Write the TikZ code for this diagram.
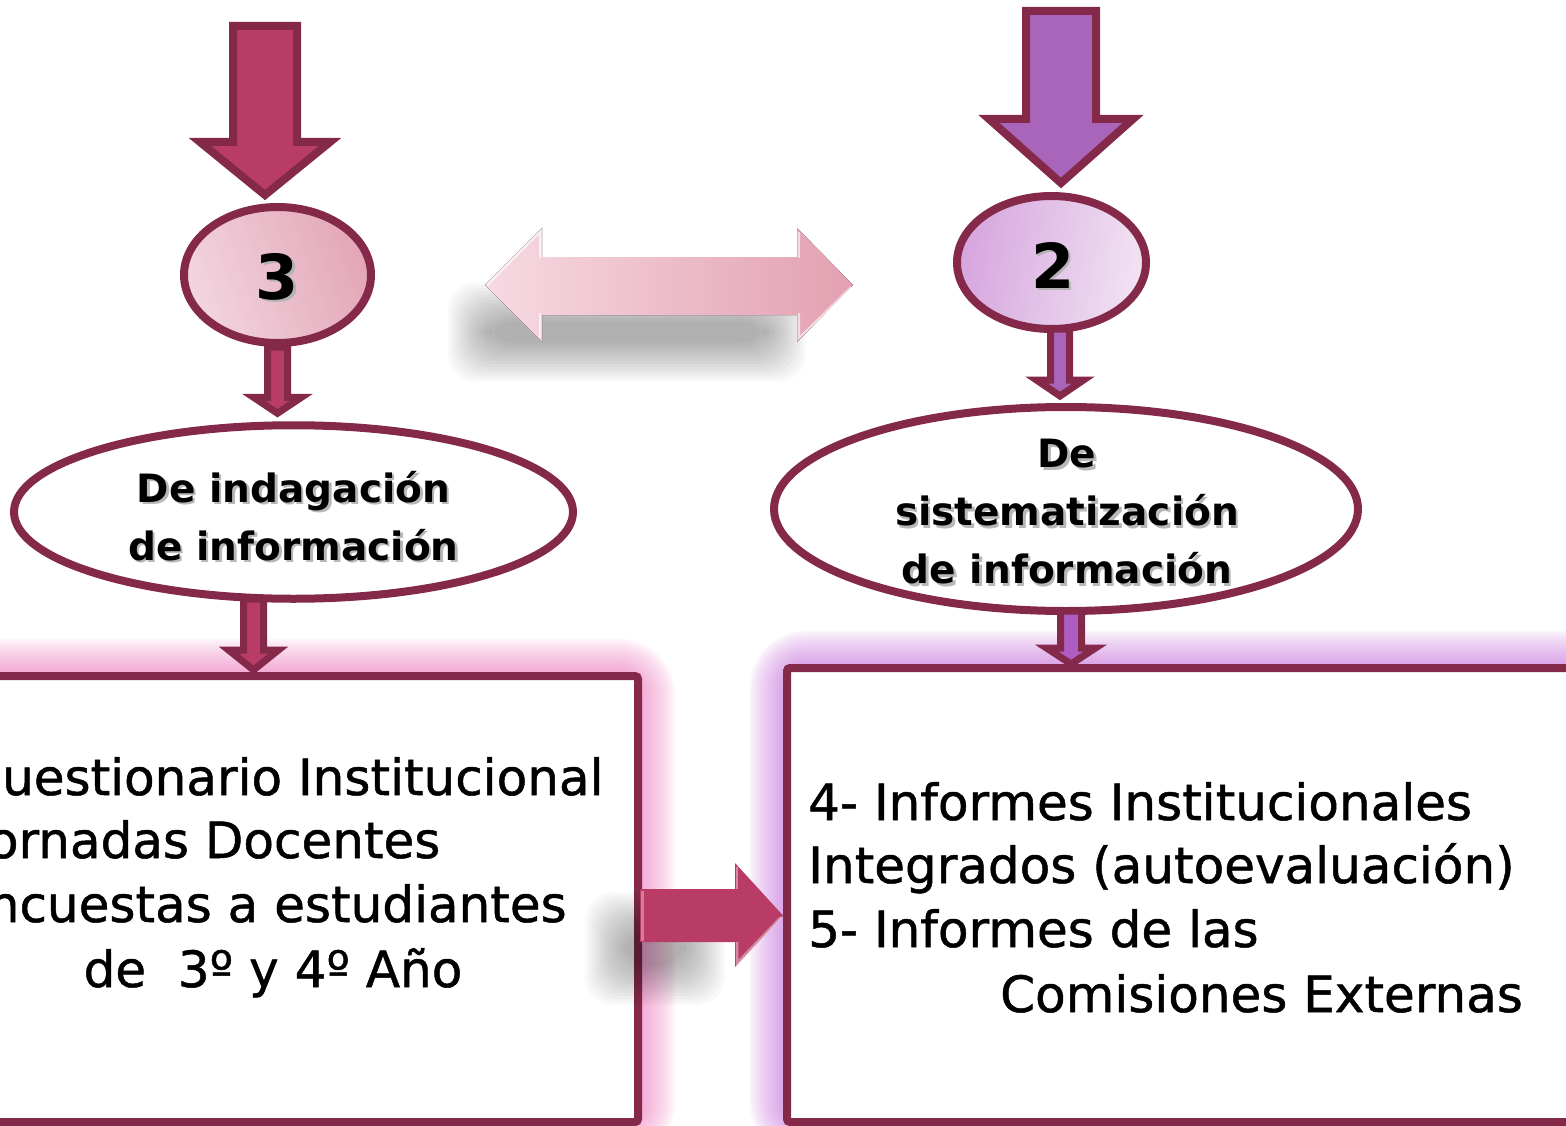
\documentclass[tikz,border=0pt]{standalone}
\usepackage{fontspec}
\setmainfont{DejaVu Sans}
\newfontfamily\boxfont{DejaVu Sans}[FakeBold=1]
\usetikzlibrary{shapes.geometric,calc}
\definecolor{bord}{HTML}{85294B}
\definecolor{redfill}{HTML}{B83C66}
\definecolor{purpfill}{HTML}{A865BA}
\definecolor{purpsmall}{HTML}{AE5EC2}
\definecolor{ellA}{HTML}{F2D5DF}
\definecolor{ellB}{HTML}{E3A6B7}
\definecolor{ellC}{HTML}{D6A5DE}
\definecolor{ellD}{HTML}{F1E3F3}
\definecolor{glowL}{HTML}{F4ACD6}
\definecolor{glowR}{HTML}{DCA6E8}
\definecolor{dblA}{HTML}{F6DAE2}
\definecolor{dblB}{HTML}{E3A0B1}
\tikzset{
  ell/.style={ellipse, draw=bord, line width=8pt, inner sep=0pt},
  boxst/.style={rectangle, draw=bord, line width=8pt, fill=white, inner sep=0pt, rounded corners=3pt},
  blk/.style={draw=bord, line width=8pt, line join=miter, miter limit=10},
  sblk/.style={draw=bord, line width=7pt, line join=miter, miter limit=10},
  etxt/.style={font=\bfseries\fontsize{39}{58}\selectfont, align=center, text=black, inner sep=0pt},
  eshad/.style={etxt, text=black!28},
  ntxt/.style={font=\bfseries\fontsize{62}{62}\selectfont, inner sep=0pt},
  btxt/.style={font=\boxfont\fontsize{50}{64}\selectfont, anchor=base west, inner sep=0pt},
  softsh/.style={black, opacity=0.024},
}
% #1 top coordinate, #2 tip anchor, #3 tip dy (canvas, up positive), #4 shaft half, #5 head half, #6 head length, #7 style
\newcommand\vblock[7]{%
  \draw[#7] let \p1=(#1), \p2=(#2), \n1={\y2+#3pt}, \n2={\y2+#3pt+#6pt} in
    ({\x1-#4pt},\y1) -- ({\x1+#4pt},\y1) -- ({\x1+#4pt},\n2) -- ({\x1+#5pt},\n2)
    -- (\x1,\n1) -- ({\x1-#5pt},\n2) -- ({\x1-#4pt},\n2) -- cycle;}
% soft shadow: nested rounded rectangles
\newcommand\softshadow[4]{%
  \foreach \k in {0,...,13}{
    \fill[softsh, rounded corners=28pt] ({#1+3*\k},{#2+3*\k}) rectangle ({#3-3*\k},{#4-3*\k});
  }}
\begin{document}
\begin{tikzpicture}[x=1pt,y=-1pt]
\useasboundingbox (0,0) rectangle (1566,1126);
\clip (0,0) rectangle (1566,1126);
\fill[white] (0,0) rectangle (1566,1126);

% glows
\foreach \k in {0,...,19}{
  \pgfmathsetmacro\w{78-3.6*\k}
  \pgfmathsetmacro\c{100*(\k/19)^0.75}
  \draw[line width=\w pt, draw=glowL!\c!white, rounded corners=20pt] (-20,676) rectangle (638,1122);
  \draw[line width=\w pt, draw=glowR!\c!white, rounded corners=20pt] (787,668) rectangle (1600,1122);
}

% boxes
\node[boxst, minimum width=658pt, minimum height=446pt] (lbox) at (309,899) {};
\node[boxst, minimum width=813pt, minimum height=454pt] (rbox) at (1193.5,895) {};

% ellipses
\node[ell, minimum width=187pt, minimum height=136pt, left color=ellA, right color=ellB, shading angle=110] (e3) at (277.5,275) {};
\node[ell, minimum width=189pt, minimum height=133pt, left color=ellC, right color=ellD, shading angle=80] (e2) at (1051.5,262.5) {};
\node[ell, minimum width=559pt, minimum height=173.5pt, fill=white] (ind) at (293.5,512) {};
\node[ell, minimum width=584pt, minimum height=204pt, fill=white] (sis) at (1066,509) {};

% top free ends and arrow start points
\coordinate (a3top) at (265,26);
\coordinate (a2top) at (1061,11);
\coordinate (a2s) at (1060,329);
\coordinate (a1s) at (253.5,599);
\coordinate (a4s) at (1071,611);

% big arrows
\vblock{a3top}{e3.north}{8}{32}{65}{53}{blk, fill=redfill}
\vblock{a2top}{e2.north}{9}{35}{72}{64}{blk, fill=purpfill}
% small arrows
\vblock{e3.south}{ind.north}{8}{10}{24}{16}{sblk, fill=redfill}
\vblock{a2s}{sis.north}{7}{9.5}{23.5}{16}{sblk, fill=purpfill}
\vblock{a1s}{lbox.north}{2}{10}{25}{20}{sblk, fill=redfill}
\vblock{a4s}{rbox.north}{0}{10.5}{24.5}{16}{sblk, fill=purpsmall}

% numbers
\node[ntxt, text=black!30] (n3s) at ($(e3.center)+(2.5,3.5)$) {3};
\node[ntxt] (n3) at ($(e3.center)+(0,1.5)$) {3};
\node[ntxt, text=black!30] (n2s) at ($(e2.center)+(4,5)$) {2};
\node[ntxt] (n2) at ($(e2.center)+(1.5,3)$) {2};

% ellipse texts
\node[eshad] (indts) at ($(ind.center)+(2.5,6.5)$) {De indagación\\de información};
\node[etxt] (indt) at ($(ind.center)+(0,4)$) {De indagación\\de información};
\node[eshad] (sists) at ($(sis.center)+(3.5,5.5)$) {De\\sistematización\\de información};
\node[etxt] (sist) at ($(sis.center)+(1,3)$) {De\\sistematización\\de información};

% double arrow with soft shadow
\softshadow{448}{282}{806}{382}
\fill[left color=dblA, right color=dblB]
  (485,285) -- (542,228) -- (542,257) -- (797,257) -- (797,228) -- (853,285)
  -- (797,342) -- (797,315) -- (542,315) -- (542,342) -- cycle;
\draw[white, opacity=0.7, line width=2pt] (487,285) -- (540,232) -- (540,258);
\draw[white, opacity=0.6, line width=2pt] (540,313) -- (540,338);
\draw[white, opacity=0.6, line width=2pt] (799,232) -- (799,258);
\draw[white, opacity=0.6, line width=2pt] (851,287) -- (799,338) -- (799,313);

% connector between boxes
\coordinate (rtail) at (640,915.5);
\coordinate (rtip) at (783,915.5);
\softshadow{585}{892}{725}{1005}
\fill[redfill]
  let \p1=(rtail), \p2=(rtip) in
  (\x1,{\y1+26.5pt}) -- ({\x2-48pt},{\y1+26.5pt}) -- ({\x2-48pt},{\y1+52.5pt}) -- (\x2,\y2)
  -- ({\x2-48pt},{\y1-51.5pt}) -- ({\x2-48pt},{\y1-26.5pt}) -- (\x1,{\y1-26.5pt}) -- cycle;
\draw[white, opacity=0.35, line width=3pt] let \p1=(rtail) in ({\x1+2pt},{\y1+25pt}) -- ({\x1+2pt},{\y1-25pt});
\draw[white, opacity=0.4, line width=2.5pt] (737,867) -- (737,889);
\draw[white, opacity=0.4, line width=2.5pt] (737,942) -- (737,963) -- (781,917);

% box texts
\node[btxt] (l1) at (-33,795) {Cuestionario Institucional};
\node[btxt] (l2) at (-27,858) {Jornadas Docentes};
\node[btxt] (l3) at (-44,922) {Encuestas a estudiantes};
\node[btxt, anchor=base] (l4) at (273,987) {de\ \ 3º y 4º Año};

\node[btxt] (r1) at (808,820) {4- Informes Institucionales};
\node[btxt] (r2) at (808,883) {Integrados (autoevaluación)};
\node[btxt] (r3) at (808,947) {5- Informes de las};
\node[btxt] (r4) at (1000,1012) {Comisiones Externas};
\end{tikzpicture}
\end{document}
